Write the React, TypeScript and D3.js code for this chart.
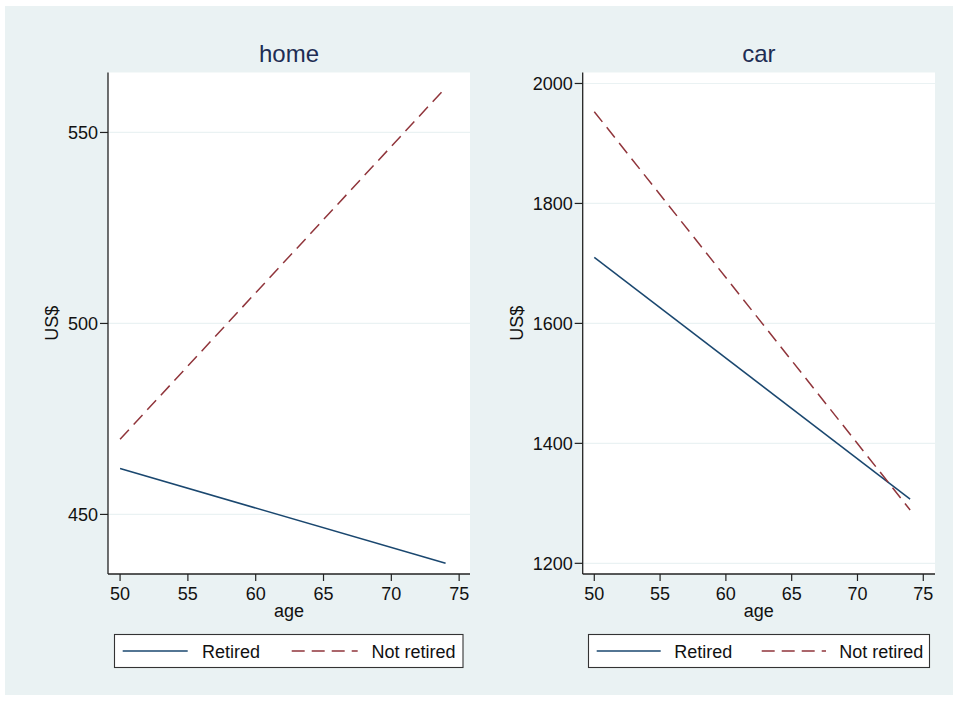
import React from "react";
import * as d3 from "d3";

const ages = [50, 74];
const homeRetired = [462.0, 437.2];
const homeNotRetired = [469.7, 561.7];
const carRetired = [1710, 1307];
const carNotRetired = [1953, 1289];
const xTicks = [50, 55, 60, 65, 70, 75];
const homeYTicks = [450, 500, 550];
const carYTicks = [1200, 1400, 1600, 1800, 2000];
const seriesNames = ["Retired", "Not retired"];
const panelTitles = ["home", "car"];

const FONT = "'Liberation Sans', Arial, sans-serif";
const NAVY = "#1a476f";
const MAROON = "#90353b";
const BG = "#eaf2f3";
const FS = 18;

type PanelProps = {
  title: string;
  left: number;
  right: number;
  yLabelX: number;
  xDomain: [number, number];
  yDomain: [number, number];
  yTicks: number[];
  retired: number[];
  notRetired: number[];
  legendX0: number;
  legendX1: number;
  legendPos: number[];
};

const TOP = 72.5;
const BOTTOM = 574;

function Panel(p: PanelProps) {
  const x = d3.scaleLinear().domain(p.xDomain).range([p.left, p.right]);
  const y = d3.scaleLinear().domain(p.yDomain).range([BOTTOM, TOP]);
  const line = d3
    .line<number>()
    .x((_, i) => x(ages[i]))
    .y((d) => y(d));
  const cx = (p.left + p.right) / 2;
  const lx = p.legendX0;
  const lp = p.legendPos;
  return (
    <g>
      <rect x={p.left} y={TOP} width={p.right - p.left} height={BOTTOM - TOP} fill="#ffffff" />
      {p.yTicks.map((t) => (
        <line key={"g" + t} x1={p.left} x2={p.right} y1={y(t)} y2={y(t)} stroke={BG} strokeWidth={1.2} />
      ))}
      <text x={cx} y={62} textAnchor="middle" fontFamily={FONT} fontSize={24} fill="#1e2d53">
        {p.title}
      </text>
      <path d={line(p.retired) || ""} fill="none" stroke={NAVY} strokeWidth={1.5} />
      <path d={line(p.notRetired) || ""} fill="none" stroke={MAROON} strokeWidth={1.5} strokeDasharray="13 7" />
      <line x1={p.left} x2={p.left} y1={TOP} y2={BOTTOM} stroke="#222" strokeWidth={1.3} />
      <line x1={p.left} x2={p.right} y1={BOTTOM} y2={BOTTOM} stroke="#222" strokeWidth={1.3} />
      {p.yTicks.map((t) => (
        <g key={"y" + t}>
          <line x1={p.left - 8} x2={p.left} y1={y(t)} y2={y(t)} stroke="#222" strokeWidth={1.2} />
          <text x={p.left - 10} y={y(t)} dy="0.36em" textAnchor="end" fontFamily={FONT} fontSize={FS} fill="#111">
            {t}
          </text>
        </g>
      ))}
      {xTicks.map((t) => (
        <g key={"x" + t}>
          <line x1={x(t)} x2={x(t)} y1={BOTTOM} y2={BOTTOM + 7} stroke="#222" strokeWidth={1.2} />
          <text x={x(t)} y={599.5} textAnchor="middle" fontFamily={FONT} fontSize={FS} fill="#111">
            {t}
          </text>
        </g>
      ))}
      <text x={cx} y={617} textAnchor="middle" fontFamily={FONT} fontSize={FS} fill="#111">
        age
      </text>
      <text
        transform={`translate(${p.yLabelX},${(TOP + BOTTOM) / 2}) rotate(-90)`}
        textAnchor="middle"
        fontFamily={FONT}
        fontSize={FS}
        fill="#111"
      >
        US$
      </text>
      <rect x={lx} y={634.5} width={p.legendX1 - lx} height={33} fill="#ffffff" stroke="#333" strokeWidth={1.1} />
      <line x1={lx + lp[0]} x2={lx + lp[1]} y1={651} y2={651} stroke={NAVY} strokeWidth={1.5} />
      <text x={lx + lp[2]} y={657.5} fontFamily={FONT} fontSize={FS} fill="#111">
        {seriesNames[0]}
      </text>
      <line x1={lx + lp[3]} x2={lx + lp[4]} y1={651} y2={651} stroke={MAROON} strokeWidth={1.5} strokeDasharray="13 7" />
      <text x={lx + lp[5]} y={657.5} fontFamily={FONT} fontSize={FS} fill="#111">
        {seriesNames[1]}
      </text>
    </g>
  );
}

export default function App() {
  return (
    <svg width={958} height={701} style={{ position: "absolute", left: 0, top: 0 }}>
      <rect x={0} y={0} width={958} height={701} fill="#ffffff" />
      <rect x={5} y={6} width={948} height={689} fill={BG} />
      <Panel
        title={panelTitles[0]}
        left={108}
        right={470}
        yLabelX={57.5}
        xDomain={[49.11, 75.8]}
        yDomain={[434.4, 565.7]}
        yTicks={homeYTicks}
        retired={homeRetired}
        notRetired={homeNotRetired}
        legendX0={114.5}
        legendX1={463}
        legendPos={[8.2, 73.2, 87.5, 177.2, 243.2, 257]}
      />
      <Panel
        title={panelTitles[1]}
        left={582.7}
        right={935}
        yLabelX={522.5}
        xDomain={[49.12, 75.89]}
        yDomain={[1182.2, 2018.3]}
        yTicks={carYTicks}
        retired={carRetired}
        notRetired={carNotRetired}
        legendX0={588.5}
        legendX1={929.5}
        legendPos={[8.2, 72.2, 85.8, 173.2, 237.5, 250.8]}
      />
    </svg>
  );
}
